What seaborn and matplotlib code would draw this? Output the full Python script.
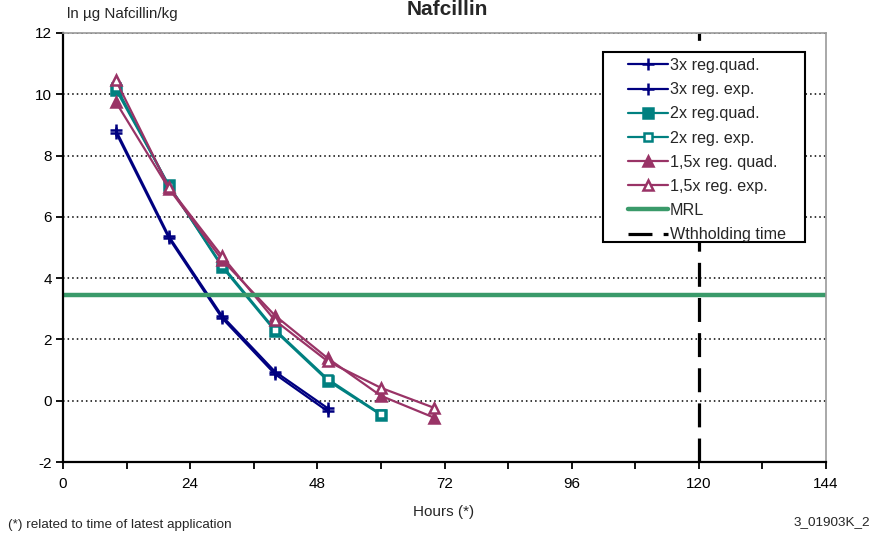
import matplotlib
matplotlib.use("Agg")
import matplotlib.pyplot as plt
from matplotlib.patches import Rectangle
import seaborn as sns
import pandas as pd

sns.set_theme(style="white")
plt.rcParams['font.family'] = ['Liberation Sans', 'DejaVu Sans']
plt.rcParams['axes.unicode_minus'] = False

hours_3x = [10, 20, 30, 40, 50]
hours_2x = [10, 20, 30, 40, 50, 60]
hours_15x = [10, 20, 30, 40, 50, 60, 70]

quad_3x = [8.82, 5.36, 2.77, 0.95, -0.25]
exp_3x = [8.75, 5.30, 2.70, 0.87, -0.35]
quad_2x = [10.15, 7.03, 4.37, 2.28, 0.65, -0.46]
exp_2x = [10.25, 7.00, 4.42, 2.32, 0.70, -0.44]
quad_15x = [9.74, 6.92, 4.60, 2.78, 1.38, 0.16, -0.55]
exp_15x = [10.45, 6.96, 4.72, 2.62, 1.28, 0.42, -0.23]

mrl = 3.45
withholding = 120

labels = ["3x reg.quad.", "3x reg. exp.", "2x reg.quad.", "2x reg. exp.",
          "1,5x reg. quad.", "1,5x reg. exp.", "MRL", "Wthholding time"]

navy = "#000080"
teal = "#008080"
plum = "#993366"
green = "#3a9a6a"

fig = plt.figure(figsize=(8.74, 5.39), dpi=100)
ax = fig.add_axes([63/874, 1-462/539, (826-63)/874, (462-33)/539])

series = [
    (hours_3x, quad_3x, navy, "+", navy, 9),
    (hours_3x, exp_3x, navy, "+", navy, 9),
    (hours_2x, quad_2x, teal, "s", teal, 7),
    (hours_2x, exp_2x, teal, "s", "white", 6),
    (hours_15x, quad_15x, plum, "^", plum, 7),
    (hours_15x, exp_15x, plum, "^", "white", 7),
]
handles = []
for (xs, ys, col, mk, fc, ms), lab in zip(series, labels[:6]):
    df = pd.DataFrame({"h": xs, "v": ys})
    sns.lineplot(data=df, x="h", y="v", ax=ax, color=col, marker=mk,
                 markerfacecolor=fc, markeredgecolor=col, markersize=ms,
                 markeredgewidth=1.8, linewidth=1.6, label=lab, legend=False)
    handles.append(ax.lines[-1])

h_mrl = ax.axhline(mrl, color=green, linewidth=3.2, label="MRL")
h_w = ax.axvline(withholding, color="black", linewidth=2.3,
                 dashes=(7.5, 3.5), label="Wthholding time")
handles += [h_mrl, h_w]

ax.set_xlim(0, 144)
ax.set_ylim(-2, 12)
ax.set_xticks(range(0, 145, 24))
ax.set_xticks(range(0, 145, 12), minor=True)
ax.set_yticks(range(-2, 13, 2))
ax.tick_params(axis="both", which="both", direction="out", length=5,
               width=1.3, colors="black", labelsize=11, bottom=True, left=True)
ax.tick_params(axis="x", pad=6)
ax.tick_params(axis="y", pad=3)
ax.yaxis.grid(True, linestyle=(0, (1, 2)), color="black", linewidth=1.1)
ax.xaxis.grid(False)
ax.set_axisbelow(True)
for s in ["left", "bottom"]:
    ax.spines[s].set_color("black")
    ax.spines[s].set_linewidth(1.6)
for s in ["top", "right"]:
    ax.spines[s].set_color("#9a9a9a")
    ax.spines[s].set_linewidth(1.2)
ax.set_xlabel("")
ax.set_ylabel("")

# legend frame (drawn inside the axes, above the data, below the legend)
frame = Rectangle((603/874, 1-242/539), (805-603)/874, (242-52)/539,
                  transform=fig.transFigure, facecolor="white",
                  edgecolor="black", linewidth=1.5, zorder=4, clip_on=False)
ax.add_patch(frame)
leg = ax.legend(handles=handles, labels=labels, loc="upper left",
                bbox_to_anchor=(628/874, 1-58/539), bbox_transform=fig.transFigure,
                borderaxespad=0, borderpad=0, frameon=False,
                fontsize=11.6, handlelength=2.5, handletextpad=0.1,
                labelspacing=0.57)
leg.set_zorder(5)

fig.text(447/874, 1-15/539, "Nafcillin", ha="center", va="baseline",
         fontsize=15, fontweight="bold")
fig.text(67/874, 1-18/539, "ln µg Nafcillin/kg", ha="left", va="baseline", fontsize=10.9)
fig.text(444/874, 1-512/539, "Hours (*)", ha="center", va="center", fontsize=11)
fig.text(8/874, 1-525/539, "(*) related to time of latest application",
         ha="left", va="center", fontsize=9.7)
fig.text(870/874, 1-522/539, "3_01903K_2", ha="right", va="center", fontsize=9.7)

fig.savefig("out.png", dpi=100)
